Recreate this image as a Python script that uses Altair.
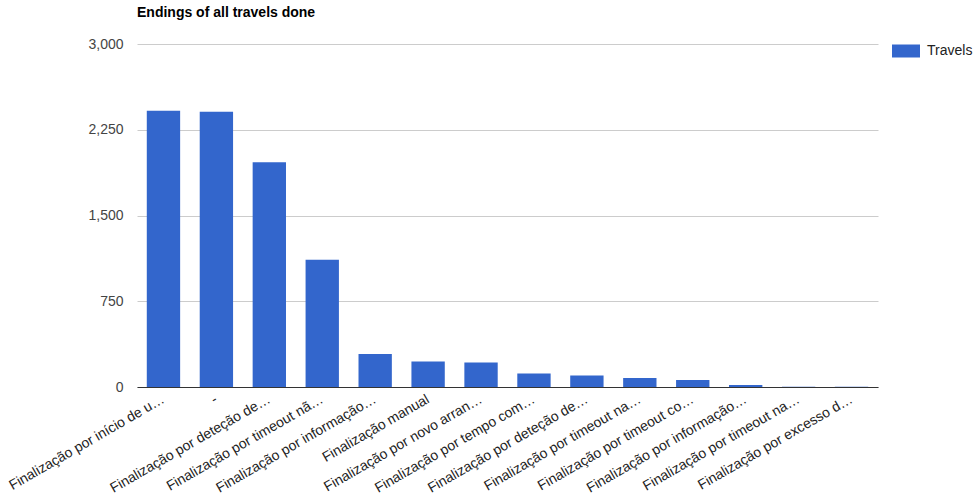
import json
import altair as alt
import pandas as pd

# Ending reasons as shown on the axis (truncated), in display order
labels = [
    "Finalização por início de u…",
    "-",
    "Finalização por deteção de…",
    "Finalização por timeout nã…",
    "Finalização por informação…",
    "Finalização manual",
    "Finalização por novo arran…",
    "Finalização por tempo com…",
    "Finalização por deteção de…",
    "Finalização por timeout na…",
    "Finalização por timeout co…",
    "Finalização por informação…",
    "Finalização por timeout na…",
    "Finalização por excesso d…",
]

travels = [2417, 2408, 1966, 1112, 288, 224, 215, 119, 101, 79, 61, 17, 3, 2]

y_ticks = [0, 750, 1500, 2250, 3000]

FONT = "Liberation Sans"

df = pd.DataFrame({
    "idx": list(range(len(labels))),
    "label": labels,
    "value": travels,
    "series": ["Travels"] * len(labels),
})

# Some truncated labels repeat, so the axis is keyed by position
label_expr = json.dumps(labels, ensure_ascii=False) + "[datum.value]"

# Wide rectangular legend swatch
bar_shape = "M-1,-0.464H1V0.464H-1Z"

chart = (
    alt.Chart(df)
    .mark_bar(color="#3366cc")
    .encode(
        x=alt.X(
            "idx:O",
            title=None,
            scale=alt.Scale(paddingInner=0.37, paddingOuter=0.185),
            axis=alt.Axis(
                labelExpr=label_expr,
                labelAngle=-30,
                labelAlign="right",
                labelBaseline="middle",
                labelPadding=11,
                labelFont=FONT,
                labelFontSize=14,
                labelColor="#222222",
                labelLimit=400,
                labelOverlap=False,
                ticks=False,
                domainColor="#333333",
                domainWidth=1,
                grid=False,
            ),
        ),
        y=alt.Y(
            "value:Q",
            title=None,
            scale=alt.Scale(domain=[0, 3000], nice=False),
            axis=alt.Axis(
                values=y_ticks,
                format=",.0f",
                labelFont=FONT,
                labelFontSize=14,
                labelColor="#444444",
                labelPadding=14,
                ticks=False,
                domain=False,
                gridColor="#cccccc",
                gridWidth=1,
            ),
        ),
        color=alt.Color(
            "series:N",
            scale=alt.Scale(domain=["Travels"], range=["#3366cc"]),
            legend=alt.Legend(
                title=None,
                orient="none",
                legendX=755,
                legendY=-7,
                symbolType=bar_shape,
                symbolSize=784,
                symbolStrokeWidth=0,
                symbolOpacity=1,
                labelFont=FONT,
                labelFontSize=14,
                labelColor="#222222",
                labelOffset=7,
                padding=0,
            ),
        ),
    )
    .properties(
        width=741,
        height=343,
        padding={"left": 137, "top": 44, "right": 95, "bottom": 115},
        autosize=alt.AutoSizeParams(type="none"),
        title=alt.TitleParams(
            "Endings of all travels done",
            anchor="start",
            frame="group",
            font=FONT,
            fontSize=14,
            fontWeight="bold",
            color="#000000",
            offset=17,
        ),
    )
    .configure_view(stroke=None)
)

chart.save("out.html", embed_options={"renderer": "svg", "actions": False})
